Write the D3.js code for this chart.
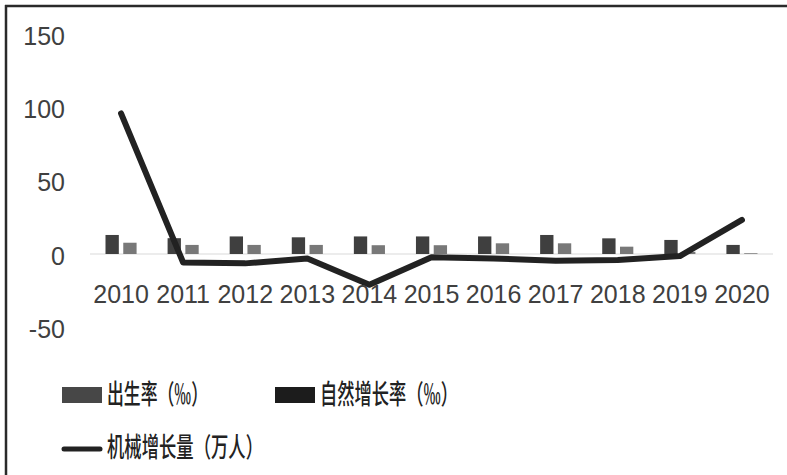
<!DOCTYPE html>
<html>
<head>
<meta charset="utf-8">
<script src="https://cdn.jsdelivr.net/npm/d3@7"></script>
<style>
  html, body { margin: 0; padding: 0; background: #fff; }
  svg { display: block; }
</style>
</head>
<body>
<svg id="chart" width="787" height="475"></svg>
<script>
const years = ["2010","2011","2012","2013","2014","2015","2016","2017","2018","2019","2020"];
const birthRate = [13.0, 10.8, 12.0, 11.4, 12.0, 12.0, 12.0, 13.0, 10.7, 9.6, 6.2];
const naturalGrowth = [7.7, 6.2, 6.2, 6.2, 6.0, 6.0, 7.3, 7.3, 5.0, 1.5, 0.5];
const migration = [96, -5.8, -6.4, -3.0, -21, -2.3, -3.0, -4.6, -4.1, -1.4, 23.3];
const yTicks = [-50, 0, 50, 100, 150];
const seriesNames = ["出生率（‰）", "自然增长率（‰）", "机械增长量（万人）"];

const svg = d3.select("#chart");
const W = 787, H = 475;
svg.append("rect").attr("width", W).attr("height", H).attr("fill", "#fff");

// frame (top and left edges visible)
svg.append("line").attr("x1", 5).attr("x2", W).attr("y1", 6).attr("y2", 6)
  .attr("stroke", "#2a2a2a").attr("stroke-width", 2.5);
svg.append("line").attr("x1", 6).attr("x2", 6).attr("y1", 5).attr("y2", H)
  .attr("stroke", "#2a2a2a").attr("stroke-width", 2.5);

const x = d3.scaleBand().domain(years).range([90, 773]).padding(0);
const y = d3.scaleLinear().domain([-50, 150]).range([327.2, 34.4]);
const inner = d3.scaleBand().domain([0, 1])
  .range([15.5, x.bandwidth() - 15.5]).paddingInner(0.25).paddingOuter(0);

const numFont = "'Liberation Sans', Arial, sans-serif";
const textColor = "#404040";

// zero line
svg.append("line")
  .attr("x1", x.range()[0]).attr("x2", x.range()[1])
  .attr("y1", y(0)).attr("y2", y(0))
  .attr("stroke", "#d9d9d9").attr("stroke-width", 1);

// bars
const barColors = ["#3f3f3f", "#787878"];
const barSeries = [birthRate, naturalGrowth];
barSeries.forEach((vals, si) => {
  svg.append("g").selectAll("rect").data(vals).join("rect")
    .attr("x", (d, i) => x(years[i]) + inner(si))
    .attr("width", inner.bandwidth())
    .attr("y", d => y(Math.max(0, d)))
    .attr("height", d => Math.abs(y(d) - y(0)))
    .attr("fill", barColors[si]);
});

// line
const line = d3.line()
  .x((d, i) => x(years[i]) + x.bandwidth() / 2)
  .y(d => y(d));
svg.append("path").datum(migration)
  .attr("d", line)
  .attr("fill", "none")
  .attr("stroke", "#222")
  .attr("stroke-width", 6)
  .attr("stroke-linejoin", "round")
  .attr("stroke-linecap", "round");

// y axis
const yAxis = svg.append("g").attr("transform", "translate(65,0)")
  .call(d3.axisLeft(y).tickValues(yTicks).tickFormat(d => String(d))
    .tickSize(0).tickPadding(0));
yAxis.select(".domain").remove();
yAxis.selectAll("text")
  .attr("font-family", numFont).attr("font-size", 25)
  .attr("fill", textColor).attr("dy", "0.4em");

// x axis
const xAxis = svg.append("g").attr("transform", "translate(0,285)")
  .call(d3.axisBottom(x).tickSize(0).tickPadding(0));
xAxis.select(".domain").remove();
xAxis.selectAll("text")
  .attr("font-family", numFont).attr("font-size", 25)
  .attr("fill", textColor).attr("dy", "0.72em");

// legend
const cjkFont = "'Noto Sans CJK SC', 'Noto Sans', sans-serif";
const legendItems = [
  { name: seriesNames[0], type: "rect", color: "#474747", sx: 62, cy: 395, tx: 107, tw: 101 },
  { name: seriesNames[1], type: "rect", color: "#1c1c1c", sx: 275, cy: 395, tx: 320, tw: 138 },
  { name: seriesNames[2], type: "line", color: "#222", sx: 62, cy: 448, tx: 107, tw: 156 }
];
const lg = svg.append("g");
legendItems.forEach(it => {
  if (it.type === "rect") {
    lg.append("rect").attr("x", it.sx).attr("y", it.cy - 8)
      .attr("width", 40).attr("height", 16).attr("fill", it.color);
  } else {
    lg.append("line").attr("x1", it.sx + 2).attr("x2", it.sx + 38)
      .attr("y1", it.cy + 1).attr("y2", it.cy + 1)
      .attr("stroke", it.color).attr("stroke-width", 5)
      .attr("stroke-linecap", "round");
  }
  lg.append("text").attr("x", it.tx).attr("y", it.cy - 3)
    .attr("dominant-baseline", "central")
    .attr("font-family", cjkFont).attr("font-size", 27)
    .attr("font-weight", 500)
    .attr("fill", "#222")
    .attr("textLength", it.tw).attr("lengthAdjust", "spacingAndGlyphs")
    .text(it.name);
});
</script>
</body>
</html>
